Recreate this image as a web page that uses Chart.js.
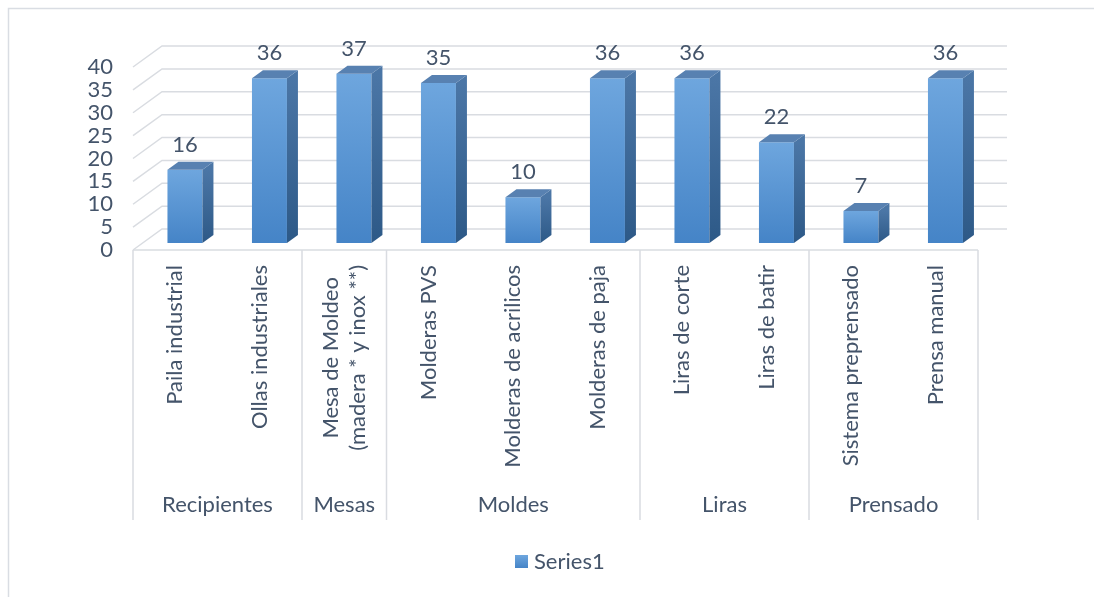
<!DOCTYPE html>
<html>
<head>
<meta charset="utf-8">
<script src="https://cdn.jsdelivr.net/npm/chart.js@4.4.1/dist/chart.umd.min.js"></script>
<style>
html, body { margin: 0; padding: 0; background: #ffffff; }
#wrap { width: 1094px; height: 597px; position: relative; }
</style>
</head>
<body>
<div id="wrap"><canvas id="chart"></canvas></div>
<script>
// categories, grouped two levels deep
const groupNames = ["Recipientes", "Mesas", "Moldes", "Liras", "Prensado"];
const groupSizes = [2, 1, 3, 2, 2];
const itemLabels = [
    "Paila industrial",
    "Ollas industriales",
    ["Mesa de Moldeo", "(madera * y inox **)"],
    "Molderas PVS",
    "Molderas de acrilicos",
    "Molderas de paja",
    "Liras de corte",
    "Liras de batir",
    "Sistema preprensado",
    "Prensa manual"
];
const seriesValues = [16, 36, 37, 35, 10, 36, 36, 22, 7, 36];
const yTicks = [0, 5, 10, 15, 20, 25, 30, 35, 40];

const FONT = "22px Lato, 'Open Sans', sans-serif";
const TEXT = "#44546a";
const GRID = "#d9dce1";

// oblique 3d offsets, relative to the plane the bar fronts sit on
const FRONT = {dx: -9.7, dy: 7};    // floor front edge / category axis
const BACK = {dx: 19.3, dy: -14};   // back wall
const BAR_DEPTH = {dx: 11, dy: -8}; // top and side faces of each bar

function frontGradient(c, top, bottom) {
    const g = c.createLinearGradient(0, top, 0, bottom);
    g.addColorStop(0, "#6ea6de");
    g.addColorStop(1, "#4584c7");
    return g;
}

const walls = {
    id: "walls",
    beforeDatasetsDraw(chart) {
        const c = chart.ctx;
        const y = chart.scales.y;
        const area = chart.chartArea;
        const left = area.left, right = area.right;
        c.save();
        c.strokeStyle = GRID;
        c.lineWidth = 1.5;
        // back wall gridlines plus the side-wall diagonals
        yTicks.forEach(v => {
            const py = y.getPixelForValue(v);
            c.beginPath();
            c.moveTo(left + FRONT.dx, py + FRONT.dy);
            c.lineTo(left + BACK.dx, py + BACK.dy);
            c.lineTo(right + BACK.dx, py + BACK.dy);
            c.stroke();
        });
        // category axis with group separators
        const base = y.getPixelForValue(0) + FRONT.dy;
        c.beginPath();
        c.moveTo(left + FRONT.dx, base);
        c.lineTo(right + FRONT.dx, base);
        c.stroke();
        const step = (right - left) / itemLabels.length;
        let idx = 0;
        const seps = [0];
        groupSizes.forEach(n => { idx += n; seps.push(idx); });
        c.beginPath();
        seps.forEach(i => {
            const px = left + FRONT.dx + i * step;
            c.moveTo(px, base);
            c.lineTo(px, 520);
        });
        c.stroke();
        // outer chart border
        c.strokeStyle = "#d9dde3";
        c.strokeRect(8.5, 8.5, 1300, 1300);
        c.restore();
    },
    afterDatasetsDraw(chart) {
        const c = chart.ctx;
        const y = chart.scales.y;
        const meta = chart.getDatasetMeta(0);
        c.save();
        c.font = FONT;
        meta.data.forEach((bar, i) => {
            const hw = bar.width / 2;
            const top = bar.y, base = bar.base;
            // side face
            const gs = c.createLinearGradient(0, top, 0, base);
            gs.addColorStop(0, "#4b76a6");
            gs.addColorStop(1, "#2d5987");
            c.fillStyle = gs;
            c.beginPath();
            c.moveTo(bar.x + hw, top);
            c.lineTo(bar.x + hw + BAR_DEPTH.dx, top + BAR_DEPTH.dy);
            c.lineTo(bar.x + hw + BAR_DEPTH.dx, base + BAR_DEPTH.dy);
            c.lineTo(bar.x + hw, base);
            c.closePath();
            c.fill();
            // top face
            c.fillStyle = "#5881b1";
            c.beginPath();
            c.moveTo(bar.x - hw, top);
            c.lineTo(bar.x - hw + BAR_DEPTH.dx, top + BAR_DEPTH.dy);
            c.lineTo(bar.x + hw + BAR_DEPTH.dx, top + BAR_DEPTH.dy);
            c.lineTo(bar.x + hw, top);
            c.closePath();
            c.fill();
            // value label
            c.fillStyle = TEXT;
            c.textAlign = "center";
            c.textBaseline = "middle";
            c.fillText(String(seriesValues[i]), bar.x, top - 25);
        });

        // value axis labels on the front plane
        c.fillStyle = TEXT;
        c.textAlign = "right";
        c.textBaseline = "middle";
        yTicks.forEach(v => {
            c.fillText(String(v), 113, y.getPixelForValue(v) + FRONT.dy);
        });

        // rotated item labels
        const lh = 27;
        meta.data.forEach((bar, i) => {
            const lines = Array.isArray(itemLabels[i]) ? itemLabels[i] : [itemLabels[i]];
            const w = Math.max(...lines.map(s => c.measureText(s).width));
            c.save();
            c.translate(bar.x + FRONT.dx, 265);
            c.rotate(-Math.PI / 2);
            c.textAlign = "center";
            lines.forEach((s, k) => {
                c.fillText(s, -w / 2, (k - (lines.length - 1) / 2) * lh);
            });
            c.restore();
        });

        // group labels
        const area = chart.chartArea;
        const step = (area.right - area.left) / itemLabels.length;
        let start = 0;
        c.textAlign = "center";
        groupNames.forEach((g, k) => {
            const mid = area.left + FRONT.dx + (start + groupSizes[k] / 2) * step;
            c.fillText(g, mid, 505);
            start += groupSizes[k];
        });

        // legend
        c.fillStyle = frontGradient(c, 555, 568);
        c.fillRect(515, 555, 13, 13);
        c.fillStyle = TEXT;
        c.textAlign = "left";
        c.fillText(chart.data.datasets[0].label, 534, 562);
        c.restore();
    }
};

const canvas = document.getElementById("chart");
const chart = new Chart(canvas, {
    type: "bar",
    data: {
        labels: itemLabels,
        datasets: [{
            label: "Series1",
            data: seriesValues,
            backgroundColor: function(context) {
                const ch = context.chart;
                if (!ch.chartArea) return "#5b95d3";
                const ys = ch.scales.y;
                return frontGradient(ch.ctx, ys.getPixelForValue(context.raw), ys.getPixelForValue(0));
            },
            borderWidth: 0,
            categoryPercentage: 1,
            barPercentage: 0.414,
        }]
    },
    plugins: [walls],
    options: {
        responsive: true,
        maintainAspectRatio: false,
        animation: false,
        layout: {
            padding: {left: 142.7, right: 106.3, top: 60, bottom: 354}
        },
        scales: {
            x: {display: false},
            y: {display: false, min: 0, max: 40}
        },
        plugins: {
            legend: {display: false},
            tooltip: {enabled: false}
        }
    }
});
</script>
</body>
</html>
